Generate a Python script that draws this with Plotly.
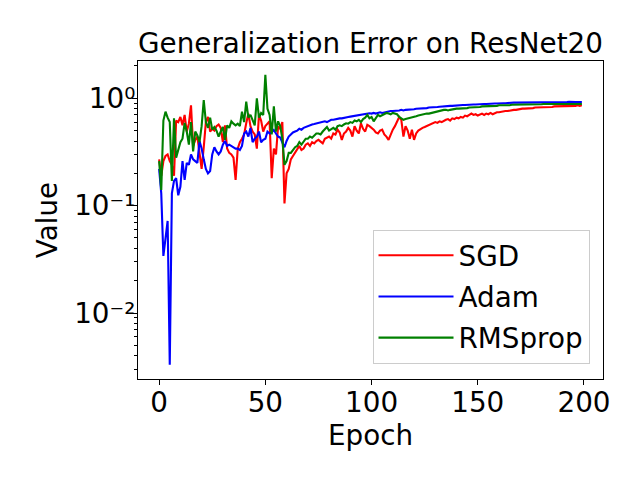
import plotly.graph_objects as go

epochs = list(range(200))

sgd = [
    0.27, 0.19, 0.26, 0.29, 0.30, 0.26, 0.24, 0.19, 0.62, 0.60,
    0.67, 0.56, 0.70, 0.49, 0.58, 0.86, 0.36, 0.41, 0.44, 0.30,
    0.22, 0.35, 0.60, 0.67, 0.49, 0.52, 0.50, 0.55, 0.57, 0.53,
    0.39, 0.56, 0.34, 0.31, 0.30, 0.28, 0.174, 0.34, 0.39, 0.42,
    0.46, 0.585, 0.72, 0.55, 0.49, 0.46, 0.34, 0.70, 0.62, 0.49,
    0.55, 0.58, 0.61, 0.18, 0.34, 0.30, 0.545, 0.52, 0.60, 0.105,
    0.20, 0.22, 0.27, 0.29, 0.31, 0.34, 0.36, 0.33, 0.34, 0.37,
    0.38, 0.36, 0.39, 0.38, 0.40, 0.41, 0.39, 0.38, 0.42, 0.43,
    0.44, 0.42, 0.47, 0.46, 0.51, 0.48, 0.41, 0.47, 0.49, 0.53,
    0.50, 0.44, 0.55, 0.50, 0.47, 0.585, 0.52, 0.49, 0.565, 0.55,
    0.53, 0.51, 0.48, 0.47, 0.50, 0.51, 0.46, 0.44, 0.41, 0.46,
    0.51, 0.55, 0.60, 0.67, 0.63, 0.44, 0.55, 0.50, 0.42, 0.51,
    0.41, 0.47, 0.50, 0.52, 0.53, 0.54, 0.55, 0.565, 0.57, 0.58,
    0.60, 0.59, 0.61, 0.60, 0.62, 0.63, 0.64, 0.62, 0.65, 0.64,
    0.66, 0.65, 0.67, 0.66, 0.69, 0.68, 0.70, 0.72, 0.70, 0.71,
    0.69, 0.71, 0.72, 0.70, 0.72, 0.71, 0.73, 0.71, 0.73, 0.74,
    0.74, 0.75, 0.75, 0.76, 0.76, 0.77, 0.78, 0.78, 0.78, 0.79,
    0.79, 0.80, 0.80, 0.80, 0.81, 0.81, 0.81, 0.82, 0.82, 0.82,
    0.82, 0.83, 0.83, 0.83, 0.83, 0.83, 0.84, 0.84, 0.84, 0.84,
    0.84, 0.85, 0.84, 0.85, 0.85, 0.85, 0.85, 0.86, 0.85, 0.86,
]

adam = [
    0.22, 0.13, 0.034, 0.05, 0.072, 0.0033, 0.13, 0.17, 0.18, 0.125,
    0.15, 0.26, 0.174, 0.25, 0.24, 0.30, 0.27, 0.26, 0.25, 0.40,
    0.34, 0.27, 0.22, 0.20, 0.21, 0.30, 0.35, 0.32, 0.30, 0.32,
    0.37, 0.40, 0.36, 0.37, 0.36, 0.355, 0.34, 0.34, 0.33, 0.36,
    0.47, 0.49, 0.44, 0.53, 0.39, 0.42, 0.44, 0.49, 0.39, 0.41,
    0.42, 0.49, 0.47, 0.48, 0.507, 0.47, 0.44, 0.43, 0.39, 0.35,
    0.40, 0.44, 0.46, 0.48, 0.49, 0.50, 0.52, 0.51, 0.53, 0.54,
    0.555, 0.56, 0.57, 0.575, 0.58, 0.59, 0.59, 0.60, 0.61, 0.60,
    0.62, 0.63, 0.63, 0.64, 0.64, 0.65, 0.65, 0.66, 0.66, 0.67,
    0.675, 0.68, 0.69, 0.69, 0.70, 0.70, 0.71, 0.71, 0.72, 0.725,
    0.72, 0.73, 0.72, 0.73, 0.74, 0.73, 0.74, 0.75, 0.75, 0.76,
    0.76, 0.76, 0.77, 0.77, 0.78, 0.77, 0.78, 0.78, 0.79, 0.79,
    0.79, 0.80, 0.80, 0.80, 0.81, 0.81, 0.81, 0.82, 0.82, 0.82,
    0.83, 0.83, 0.835, 0.84, 0.84, 0.845, 0.85, 0.85, 0.85, 0.855,
    0.86, 0.86, 0.86, 0.865, 0.865, 0.87, 0.87, 0.87, 0.875, 0.875,
    0.88, 0.88, 0.88, 0.885, 0.885, 0.89, 0.89, 0.89, 0.895, 0.895,
    0.90, 0.90, 0.90, 0.90, 0.905, 0.905, 0.905, 0.91, 0.91, 0.91,
    0.91, 0.91, 0.915, 0.915, 0.91, 0.915, 0.915, 0.92, 0.915, 0.915,
    0.92, 0.92, 0.915, 0.92, 0.92, 0.92, 0.92, 0.915, 0.92, 0.92,
    0.92, 0.92, 0.92, 0.925, 0.92, 0.92, 0.92, 0.92, 0.92, 0.92,
]

rmsprop = [
    0.26, 0.14, 0.62, 0.75, 0.66, 0.60, 0.17, 0.65, 0.28, 0.34,
    0.39, 0.42, 0.59, 0.49, 0.37, 0.60, 0.32, 0.49, 0.45, 0.39,
    0.55, 0.96, 0.60, 0.53, 0.66, 0.51, 0.54, 0.50, 0.44, 0.49,
    0.54, 0.41, 0.56, 0.53, 0.61, 0.58, 0.56, 0.58, 0.55, 0.75,
    0.60, 0.93, 0.66, 0.70, 0.62, 0.56, 1.0, 0.66, 0.73, 0.70,
    1.65, 0.80, 0.70, 0.46, 0.84, 0.49, 0.61, 0.55, 0.42, 0.24,
    0.26, 0.31, 0.31, 0.33, 0.35, 0.36, 0.39, 0.37, 0.40, 0.42,
    0.42, 0.44, 0.43, 0.45, 0.47, 0.47, 0.46, 0.49, 0.51, 0.54,
    0.50, 0.52, 0.53, 0.51, 0.55, 0.56, 0.55, 0.57, 0.585, 0.58,
    0.60, 0.59, 0.62, 0.61, 0.63, 0.60, 0.64, 0.66, 0.70, 0.65,
    0.67, 0.61, 0.66, 0.70, 0.68, 0.70, 0.71, 0.73, 0.72, 0.71,
    0.73, 0.72, 0.71, 0.67, 0.65, 0.63, 0.64, 0.65, 0.66, 0.67,
    0.68, 0.68, 0.69, 0.70, 0.70, 0.71, 0.72, 0.72, 0.73, 0.74,
    0.75, 0.76, 0.77, 0.77, 0.78, 0.78, 0.77, 0.78, 0.79, 0.79,
    0.80, 0.80, 0.80, 0.81, 0.81, 0.81, 0.82, 0.82, 0.82, 0.83,
    0.83, 0.83, 0.84, 0.84, 0.84, 0.84, 0.85, 0.85, 0.85, 0.85,
    0.86, 0.86, 0.86, 0.85, 0.86, 0.86, 0.87, 0.87, 0.87, 0.87,
    0.87, 0.87, 0.875, 0.88, 0.875, 0.88, 0.88, 0.88, 0.88, 0.88,
    0.88, 0.885, 0.88, 0.885, 0.885, 0.885, 0.885, 0.88, 0.885, 0.885,
    0.885, 0.89, 0.885, 0.885, 0.89, 0.885, 0.885, 0.89, 0.885, 0.885,
]

series_names = ["SGD", "Adam", "RMSprop"]
series_values = [sgd, adam, rmsprop]
series_colors = ["#ff0000", "#0000ff", "#008000"]

y_tick_vals = [0.01, 0.1, 1]
y_tick_text = ["10\u207b\u00b2", "10\u207b\u00b9", "10\u2070"]
y_minor_vals = [m * 10 ** d for d in (-3, -2, -1, 0) for m in range(2, 10)]
x_tick_vals = [0, 50, 100, 150, 200]

FONT = "DejaVu Sans"
FS = 27.8

fig = go.Figure()
for i, (name, vals, col) in enumerate(zip(series_names, series_values, series_colors)):
    fig.add_trace(go.Scatter(
        x=epochs, y=vals, mode="lines", name=name,
        line=dict(color=col, width=2.1), legendgroup=name,
    ))

fig.update_layout(
    width=640, height=480,
    margin=dict(l=130, r=45, t=53, b=109),
    paper_bgcolor="white", plot_bgcolor="white",
    font=dict(family=FONT, size=FS, color="black"),
    title=dict(text="Generalization Error on ResNet20", x=0.5, xref="paper",
               y=1, yref="paper", yanchor="bottom", xanchor="center",
               pad=dict(b=8), font=dict(size=FS, family=FONT, color="black")),
    showlegend=True,
    legend=dict(x=0.971, y=0.048, xanchor="right", yanchor="bottom",
                bgcolor="rgba(255,255,255,0.8)", bordercolor="#cccccc", borderwidth=1,
                font=dict(size=FS, family=FONT, color="black"),
                tracegroupgap=2, itemwidth=75),
)
fig.update_xaxes(
    range=[-9.95, 208.95], tickvals=x_tick_vals, ticks="outside", ticklen=5,
    tickwidth=1.1, tickcolor="black", showline=True, linecolor="black", linewidth=1.1,
    mirror=True, showgrid=False, zeroline=False, automargin=False,
    ticklabelstandoff=-6,
    title=dict(text="Epoch", standoff=0, font=dict(size=FS, family=FONT)),
)
fig.update_yaxes(
    type="log", range=[-2.614, 0.347], tickvals=y_tick_vals, ticktext=y_tick_text,
    ticks="outside", ticklen=5, tickwidth=1.1, tickcolor="black",
    showline=True, linecolor="black", linewidth=1.1, mirror=True,
    showgrid=False, zeroline=False, automargin=False,
    ticklabelstandoff=-9,
    minor=dict(tickvals=y_minor_vals, ticks="outside", ticklen=3, tickwidth=0.8,
               tickcolor="black", showgrid=False),
    title=dict(text="Value", standoff=8, font=dict(size=FS, family=FONT)),
)

fig.write_html("out.html")
